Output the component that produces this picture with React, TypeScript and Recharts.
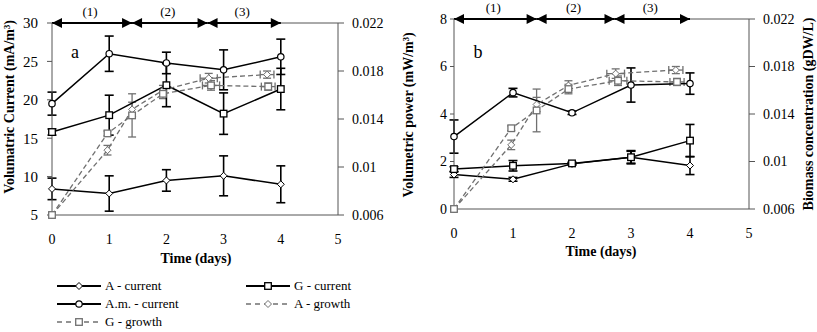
import React from "react";
import {
  ComposedChart,
  Line,
  Scatter,
  XAxis,
  YAxis,
  ErrorBar,
  ReferenceLine,
} from "recharts";

// time axis
const days = [0, 1, 2, 3, 4];
const xTicks = [0, 1, 2, 3, 4, 5];

// (a) volumetric current, mA/m3
const aCurrent = [8.4, 7.8, 9.5, 10.1, 9.0];
const aCurrentErr = [1.4, 2.3, 1.4, 2.6, 2.4];
const gCurrent = [15.8, 18.0, 21.9, 18.2, 21.4];
const gCurrentErr = [0.4, 2.6, 2.8, 2.7, 2.7];
const amCurrent = [19.5, 26.0, 24.8, 23.9, 25.6];
const amCurrentErr = [1.5, 2.3, 1.4, 2.6, 2.3];

// (b) volumetric power, mW/m3
const aPower = [1.45, 1.25, 1.9, 2.18, 1.83];
const aPowerErr = [0.12, 0.08, 0.05, 0.25, 0.38];
const gPower = [1.68, 1.82, 1.92, 2.18, 2.88];
const gPowerErr = [0.1, 0.22, 0.05, 0.28, 0.68];
const amPower = [3.05, 4.9, 4.05, 5.22, 5.28];
const amPowerErr = [0.7, 0.18, 0.07, 0.72, 0.45];

// biomass growth, gDW/L (same in both panels)
const aGrowthT = [0, 0.97, 1.4, 1.94, 2.74, 3.76];
const aGrowth = [0.006, 0.0114, 0.0148, 0.0164, 0.0174, 0.0177];
const aGrowthErr = [0, 0.0004, 0.0006, 0.0004, 0.0004, 0.0003];
const aGrowthTErr = [0, 0, 0, 0, 0.15, 0.12];
const gGrowthT = [0, 0.97, 1.4, 1.94, 2.78, 3.78];
const gGrowth = [0.006, 0.0128, 0.0143, 0.0161, 0.0168, 0.0167];
const gGrowthErr = [0, 0.0002, 0.0018, 0.0004, 0.0004, 0.0003];
const gGrowthTErr = [0, 0, 0, 0, 0.15, 0.12];

// phases shown on top of each panel
const phaseLabels = ["(1)", "(2)", "(3)"];
const phaseBounds = [0, 1.4, 2.72, 4];

const leftTicks = [5, 10, 15, 20, 25, 30];
const powerTicks = [0, 2, 4, 6, 8];
const biomassTicks = [0.006, 0.01, 0.014, 0.018, 0.022];

const FONT = "'Liberation Serif', 'Times New Roman', serif";
const AXIS = "#555";
const GREY = "#707070";

const rows = (vals: number[], errs: number[], ts: number[] = days, terrs?: number[]) =>
  vals.map((v, i) => ({ t: ts[i], v, e: errs[i], te: terrs ? terrs[i] : 0 }));

const Circle = ({ cx, cy, stroke = "#000" }: any) => (
  <circle cx={cx} cy={cy} r={3.2} fill="#fff" stroke={stroke} strokeWidth={1.2} />
);
const Square = ({ cx, cy, stroke = "#000" }: any) => (
  <rect x={cx - 3.3} y={cy - 3.3} width={6.6} height={6.6} fill="#fff" stroke={stroke} strokeWidth={1.3} />
);
const Diamond = ({ cx, cy, stroke = "#000" }: any) => (
  <polygon
    points={`${cx},${cy - 3.5} ${cx + 3.5},${cy} ${cx},${cy + 3.5} ${cx - 3.5},${cy}`}
    fill="#fff"
    stroke={stroke}
    strokeWidth={1}
  />
);

const PhaseArrow = (label: string) => (p: any) => {
  const { x1, x2, y1 } = p;
  const h = 5;
  const l = 10;
  return (
    <g>
      <line x1={x1} x2={x2} y1={y1} y2={y1} stroke="#000" strokeWidth={2} />
      <polygon points={`${x1},${y1} ${x1 + l},${y1 - h} ${x1 + l},${y1 + h}`} fill="#000" />
      <polygon points={`${x2},${y1} ${x2 - l},${y1 - h} ${x2 - l},${y1 + h}`} fill="#000" />
      <text x={(x1 + x2) / 2 - 2} y={y1 - 7} textAnchor="middle" fontSize={13} fontFamily={FONT} fill="#000">
        {label}
      </text>
    </g>
  );
};

interface PanelProps {
  width: number;
  height: number;
  margin: { top: number; right: number; left: number; bottom: number };
  leftWidth: number;
  rightWidth: number;
  xHeight: number;
  leftDomain: [number, number];
  leftTickVals: number[];
  leftTickMargin: number;
  leftTickSize: number;
  leftFont: number;
  series: { data: any[]; Marker: any }[];
}

function Panel(props: PanelProps) {
  const tick = { fill: "#000", fontSize: 14, fontFamily: FONT };
  const top = props.leftDomain[1];
  const aData = rows(aGrowth, aGrowthErr, aGrowthT, aGrowthTErr);
  const gData = rows(gGrowth, gGrowthErr, gGrowthT, gGrowthTErr);
  return (
    <ComposedChart width={props.width} height={props.height} margin={props.margin}>
      <XAxis
        type="number"
        dataKey="t"
        domain={[0, 5]}
        ticks={xTicks}
        tickLine={false}
        tickSize={0}
        tickMargin={19}
        height={props.xHeight}
        axisLine={{ stroke: AXIS }}
        tick={tick}
        allowDuplicatedCategory={false}
      />
      <YAxis
        yAxisId="l"
        domain={props.leftDomain}
        ticks={props.leftTickVals}
        width={props.leftWidth}
        tickSize={props.leftTickSize}
        tickMargin={props.leftTickMargin}
        axisLine={{ stroke: AXIS }}
        tickLine={{ stroke: AXIS }}
        tick={{ ...tick, fontSize: props.leftFont }}
        interval={0}
      />
      <YAxis
        yAxisId="r"
        orientation="right"
        domain={[0.006, 0.022]}
        ticks={biomassTicks}
        width={props.rightWidth}
        tickSize={6}
        tickMargin={8}
        axisLine={{ stroke: AXIS }}
        tickLine={{ stroke: AXIS }}
        tick={tick}
        interval={0}
      />
      <ReferenceLine yAxisId="l" y={top} stroke={AXIS} />
      {phaseLabels.map((lab, i) => (
        <ReferenceLine
          key={lab}
          yAxisId="l"
          segment={[
            { x: phaseBounds[i], y: top },
            { x: phaseBounds[i + 1], y: top },
          ]}
          shape={PhaseArrow(lab)}
        />
      ))}
      <Scatter
        yAxisId="r"
        data={aData}
        dataKey="v"
        isAnimationActive={false}
        line={{ stroke: GREY, strokeDasharray: "5 3", strokeWidth: 1.3 }}
        lineJointType="linear"
        shape={(p: any) => <Diamond cx={p.cx} cy={p.cy} stroke={GREY} />}
      >
        <ErrorBar dataKey="e" direction="y" width={4} stroke={GREY} strokeWidth={1.3} />
        <ErrorBar dataKey="te" direction="x" width={4} stroke={GREY} strokeWidth={1.3} />
      </Scatter>
      <Scatter
        yAxisId="r"
        data={gData}
        dataKey="v"
        isAnimationActive={false}
        line={{ stroke: GREY, strokeDasharray: "5 3", strokeWidth: 1.3 }}
        lineJointType="linear"
        shape={(p: any) => <Square cx={p.cx} cy={p.cy} stroke={GREY} />}
      >
        <ErrorBar dataKey="e" direction="y" width={4} stroke={GREY} strokeWidth={1.3} />
        <ErrorBar dataKey="te" direction="x" width={4} stroke={GREY} strokeWidth={1.3} />
      </Scatter>
      {props.series.map((s, i) => (
        <Line
          key={i}
          yAxisId="l"
          data={s.data}
          dataKey="v"
          stroke="#000"
          strokeWidth={1.5}
          isAnimationActive={false}
          dot={(p: any) => <s.Marker key={p.index} cx={p.cx} cy={p.cy} />}
          activeDot={false}
        >
          <ErrorBar dataKey="e" direction="y" width={4.5} stroke="#000" strokeWidth={1.6} />
        </Line>
      ))}
    </ComposedChart>
  );
}

const title: React.CSSProperties = {
  position: "absolute",
  fontFamily: FONT,
  fontWeight: "bold",
  fontSize: 14,
  whiteSpace: "nowrap",
  color: "#000",
};

const vTitle = (x: number, y: number): React.CSSProperties => ({
  ...title,
  left: x,
  top: y,
  transform: "translate(-50%, -50%) rotate(-90deg)",
});

const legendItems = [
  { name: "A - current", Marker: Diamond, dashed: false, col: 0, row: 0 },
  { name: "G - current", Marker: Square, dashed: false, col: 1, row: 0 },
  { name: "A.m. - current", Marker: Circle, dashed: false, col: 0, row: 1 },
  { name: "A - growth", Marker: Diamond, dashed: true, col: 1, row: 1 },
  { name: "G - growth", Marker: Square, dashed: true, col: 0, row: 2 },
];

function Legend() {
  return (
    <>
      {legendItems.map((it) => (
        <div
          key={it.name}
          style={{
            position: "absolute",
            left: it.col === 0 ? 57 : 246,
            top: 277 + it.row * 18,
            height: 18,
            display: "flex",
            alignItems: "center",
            fontFamily: FONT,
            fontSize: 13,
          }}
        >
          <svg width={44} height={12} style={{ marginRight: 4 }}>
            <line
              x1={0}
              x2={44}
              y1={6}
              y2={6}
              stroke={it.dashed ? GREY : "#000"}
              strokeWidth={it.dashed ? 1.3 : 2}
              strokeDasharray={it.dashed ? "5 4" : undefined}
            />
            <it.Marker cx={22} cy={6} stroke={it.dashed ? GREY : "#000"} />
          </svg>
          <span>{it.name}</span>
        </div>
      ))}
    </>
  );
}

export default function App() {
  const leftSeries = [
    { data: rows(aCurrent, aCurrentErr), Marker: Diamond },
    { data: rows(gCurrent, gCurrentErr), Marker: Square },
    { data: rows(amCurrent, amCurrentErr), Marker: Circle },
  ];
  const rightSeries = [
    { data: rows(aPower, aPowerErr), Marker: Diamond },
    { data: rows(gPower, gPowerErr), Marker: Square },
    { data: rows(amPower, amPowerErr), Marker: Circle },
  ];
  return (
    <div style={{ position: "absolute", left: 0, top: 0, width: 817, height: 332, background: "#fff" }}>
      <div style={{ position: "absolute", left: 0, top: 0 }}>
        <Panel
          width={400}
          height={250}
          margin={{ top: 23, right: 0, left: 0, bottom: 0 }}
          leftWidth={52}
          rightWidth={62}
          xHeight={35}
          leftDomain={[5, 30]}
          leftTickVals={leftTicks}
          leftTickMargin={9}
          leftTickSize={5}
          leftFont={15}
          series={leftSeries}
        />
      </div>
      <div style={{ position: "absolute", left: 400, top: 0 }}>
        <Panel
          width={417}
          height={250}
          margin={{ top: 19, right: 0, left: 0, bottom: 0 }}
          leftWidth={54}
          rightWidth={68}
          xHeight={41}
          leftDomain={[0, 8]}
          leftTickVals={powerTicks}
          leftTickMargin={3}
          leftTickSize={4}
          leftFont={14}
          series={rightSeries}
        />
      </div>
      <div style={{ ...title, left: 75, top: 52, fontWeight: "normal", fontSize: 18, transform: "translate(-50%, -50%)" }}>a</div>
      <div style={{ ...title, left: 478, top: 52, fontWeight: "normal", fontSize: 18, transform: "translate(-50%, -50%)" }}>b</div>
      <div style={vTitle(10, 107)}>Volumatric Current (mA/m³)</div>
      <div style={vTitle(409, 115)}>Volumetric power (mW/m³)</div>
      <div style={vTitle(809, 114)}>Biomass concentration (gDW/L)</div>
      <div style={{ ...title, left: 196, top: 259, transform: "translate(-50%, -50%)" }}>Time (days)</div>
      <div style={{ ...title, left: 601, top: 252, transform: "translate(-50%, -50%)" }}>Time (days)</div>
      <Legend />
    </div>
  );
}
